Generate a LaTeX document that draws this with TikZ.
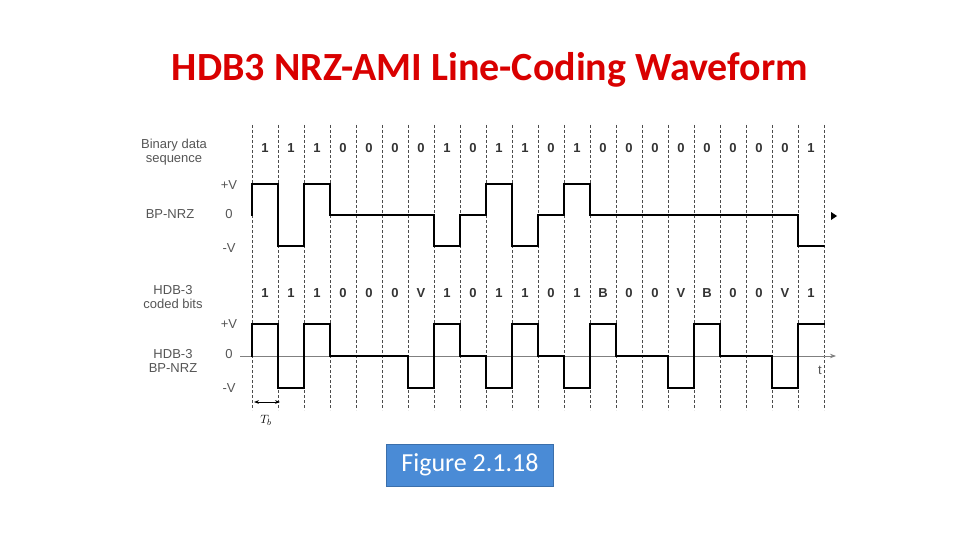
\documentclass[tikz,border=0pt]{standalone}
\usepackage{fontspec}
\setmainfont{Liberation Sans}
\newfontfamily\titlefont{Carlito}
\usetikzlibrary{arrows.meta,positioning}
\definecolor{boxblue}{HTML}{4A8BD6}
\definecolor{labgray}{HTML}{555555}

\begin{document}
\begin{tikzpicture}[
    x=1pt, y=-1pt,
    lab/.style={text=labgray, font=\fontsize{13}{14}\selectfont, align=center},
    bit/.style={font=\bfseries\fontsize{13}{14}\selectfont, text=black!80},
    grid/.style={densely dashed, black!70, line width=0.5pt},
    wave/.style={line width=1.6pt, line cap=rect}
]
    \useasboundingbox (0,0) rectangle (960,540);
    % title
    \node[font=\titlefont\bfseries\fontsize{40}{44}\selectfont, text=red!85!black] (title) at (490,70) {HDB3 NRZ-AMI Line-Coding Waveform};

    % bit grid
    \foreach \k in {0,...,22}
        \draw[grid] ({252+26*\k},125) -- ({252+26*\k},410);

    % labels left
    \node[lab] (bds) at (174,152) {Binary data\\sequence};
    \node[lab] (pv1) at (229,185) {+V};
    \node[lab] (bp1) at (170,214) {BP-NRZ};
    \node[lab] (z1) at (229,214) {0};
    \node[lab] (mv1) at (229,248) {-V};
    \node[lab] (hcb) at (173,297) {HDB-3\\coded bits};
    \node[lab] (pv2) at (229,324) {+V};
    \node[lab] (hbp) at (173,361) {HDB-3\\BP-NRZ};
    \node[lab] (z2) at (229,354) {0};
    \node[lab] (mv2) at (229,388) {-V};

    % bit values
    \foreach \b [count=\i from 0] in {1,1,1,0,0,0,0,1,0,1,1,0,1,0,0,0,0,0,0,0,0,1}
        \node[bit] (top\i) at ({265+26*\i},148) {\b};
    \foreach \b [count=\i from 0] in {1,1,1,0,0,0,V,1,0,1,1,0,1,B,0,0,V,B,0,0,V,1}
        \node[bit] (bot\i) at ({265+26*\i},293) {\b};

    % top waveform (AMI)
    \foreach \l [count=\i from 0, remember=\l as \p (initially 0)] in
        {1,-1,1,0,0,0,0,-1,0,1,-1,0,1,0,0,0,0,0,0,0,0,-1}
        \draw[wave] ({252+26*\i},{215-31*\p}) -- ({252+26*\i},{215-31*\l}) -- ({278+26*\i},{215-31*\l});
    \fill (831,212) -- (837,216) -- (831,220) -- cycle;

    % bottom axis and waveform (HDB3)
    \coordinate (ax0) at (240,356);
    \coordinate (ax1) at (836,356);
    \draw[gray, line width=0.8pt, -{Stealth[length=6pt]}] (ax0) -- (ax1);
    \node[lab] (t) at (820,370) {t};
    \foreach \l [count=\i from 0, remember=\l as \p (initially 0)] in
        {1,-1,1,0,0,0,-1,1,0,-1,1,0,-1,1,0,0,-1,1,0,0,-1,1}
        \draw[wave] ({252+26*\i},{356-32*\p}) -- ({252+26*\i},{356-32*\l}) -- ({278+26*\i},{356-32*\l});

    % bit period
    \coordinate (tb0) at (254,402);
    \coordinate (tb1) at (280,402);
    \draw[{Stealth[length=5pt]}-{Stealth[length=5pt]}, line width=0.8pt] (tb0) -- (tb1);
    \node[lab, text=black] (tb) at (266,420) {$T_b$};

    % figure box
    \node[fill=boxblue, text=white, font=\titlefont\fontsize{26}{28}\selectfont, minimum width=167pt, minimum height=42pt, draw=boxblue!80!black] (fig) at (470,465) {Figure 2.1.18};
\end{tikzpicture}
\end{document}
